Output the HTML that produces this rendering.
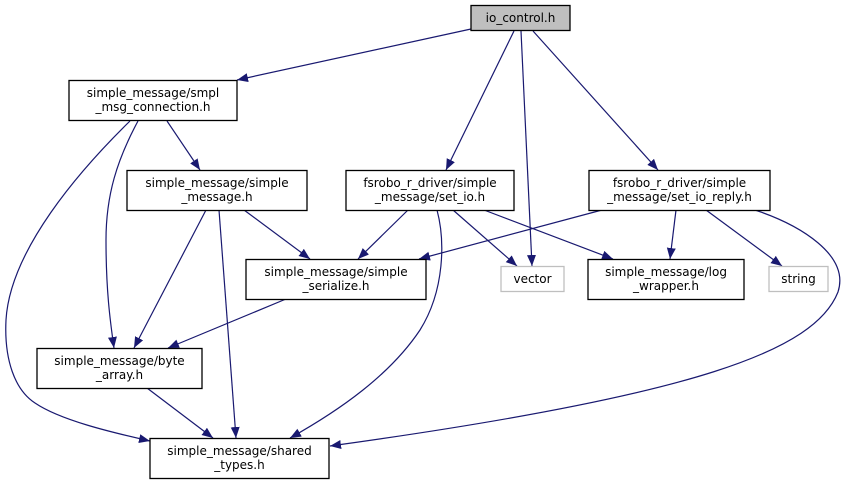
<!DOCTYPE html>
<html><head><meta charset="utf-8"><style>
html,body{margin:0;padding:0;background:#fff}
svg{display:block}
text{font-family:"DejaVu Sans","Liberation Sans",sans-serif;font-size:12px;fill:#000}
</style></head><body>
<svg width="854" height="484" viewBox="0 0 854 484" xmlns="http://www.w3.org/2000/svg">
<defs>
<marker id="a" markerUnits="userSpaceOnUse" markerWidth="12" markerHeight="10" refX="11" refY="4.5" orient="auto">
<path d="M0,0 L11,4.5 L0,9 Z" fill="#191970"/>
</marker>
</defs>
<g fill="none" stroke="#191970" stroke-width="1.2" marker-end="url(#a)">
<path d="M471,29 L237,80"/>
<path d="M514,31 L446,170"/>
<path d="M521,31 L532,266"/>
<path d="M533,31 L658,170"/>
<path d="M167,121 L200,170"/>
<path d="M138,121 C117,160 106,195 106,240 C106,290 110,320 114,348"/>
<path d="M130,121 C80,170 10,250 6,320 C4,360 15,390 35,403 C60,420 110,432 150,441"/>
<path d="M244,210 L310,259"/>
<path d="M206,210 L134,348"/>
<path d="M219,210 L236,438"/>
<path d="M408,210 L358,259"/>
<path d="M453,210 L517,266"/>
<path d="M484,210 L613,259"/>
<path d="M437,210 C445,240 445,290 420,330 C390,375 340,410 290,438"/>
<path d="M602,210 L419,259"/>
<path d="M676,210 L670,259"/>
<path d="M706,210 L782,266"/>
<path d="M755,210 C800,225 850,255 838,292 C815,350 700,395 330,446"/>
<path d="M286,299 L168,348"/>
<path d="M147,388 L213,438"/>
</g>
<g stroke-width="1.3">
<rect x="471" y="5.5" width="99" height="25" fill="#bfbfbf" stroke="#000"/>
<rect x="69" y="80.5" width="168" height="40" fill="#fff" stroke="#000"/>
<rect x="127" y="170.5" width="180" height="40" fill="#fff" stroke="#000"/>
<rect x="346" y="170.5" width="168" height="40" fill="#fff" stroke="#000"/>
<rect x="589" y="170.5" width="181" height="40" fill="#fff" stroke="#000"/>
<rect x="246" y="259.5" width="180" height="40" fill="#fff" stroke="#000"/>
<rect x="501" y="266.5" width="63" height="25" fill="#fff" stroke="#bfbfbf"/>
<rect x="588" y="259.5" width="156" height="40" fill="#fff" stroke="#000"/>
<rect x="769" y="266.5" width="59" height="25" fill="#fff" stroke="#bfbfbf"/>
<rect x="37" y="348.5" width="165" height="40" fill="#fff" stroke="#000"/>
<rect x="150" y="438.5" width="179" height="40" fill="#fff" stroke="#000"/>
</g>
<g text-anchor="middle">
<text x="520.5" y="22">io_control.h</text>
<text x="153" y="97">simple_message/smpl</text><text x="153" y="111">_msg_connection.h</text>
<text x="217" y="187">simple_message/simple</text><text x="217" y="201">_message.h</text>
<text x="430" y="187">fsrobo_r_driver/simple</text><text x="430" y="201">_message/set_io.h</text>
<text x="679.5" y="187">fsrobo_r_driver/simple</text><text x="679.5" y="201">_message/set_io_reply.h</text>
<text x="336" y="276">simple_message/simple</text><text x="336" y="290">_serialize.h</text>
<text x="532.5" y="283">vector</text>
<text x="666" y="276">simple_message/log</text><text x="666" y="290">_wrapper.h</text>
<text x="798.5" y="283">string</text>
<text x="119.5" y="365">simple_message/byte</text><text x="119.5" y="379">_array.h</text>
<text x="239.5" y="455">simple_message/shared</text><text x="239.5" y="469">_types.h</text>
</g>
</svg>
</body></html>
